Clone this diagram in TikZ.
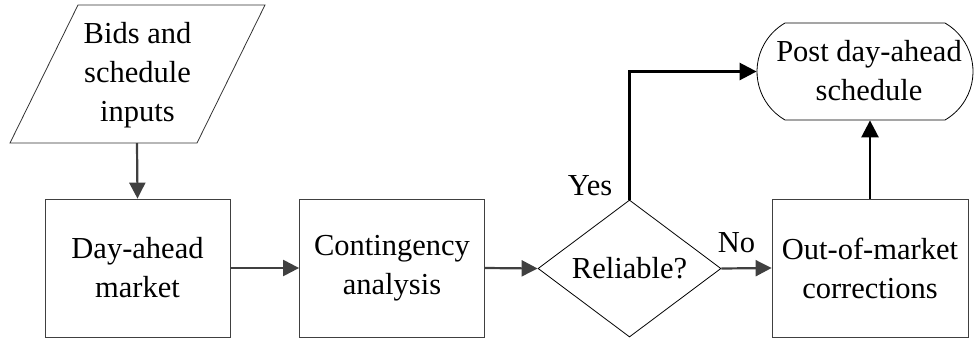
\documentclass[tikz,border=0pt]{standalone}
\usepackage{fontspec}
\setmainfont{Liberation Serif}
\usetikzlibrary{shapes.geometric,shapes.misc,arrows.meta}

\tikzset{
  lbl/.style={font=\fontsize{30.5}{39}\selectfont, align=center, inner sep=0pt},
  procbox/.style={draw=black!75, line width=0.8pt, minimum width=185pt, minimum height=138pt,
                  lbl},
  decision/.style={draw=black, line width=0.8pt, diamond, aspect=1.336,
                   minimum width=183pt, minimum height=137pt, lbl},
  terminal/.style={draw=black, line width=0.8pt, rounded rectangle, rounded rectangle arc length=120,
                   minimum width=216pt, minimum height=97pt, lbl},
  flow/.style={draw=black!75, line width=2.2pt, -{Triangle[length=16pt,width=16pt]}},
  flowk/.style={draw=black, line width=2.6pt, -{Triangle[length=17pt,width=17pt]}},
}

\begin{document}
\begin{tikzpicture}[x=1pt,y=-1pt]
  \useasboundingbox (0,0) rectangle (974,341);

  % input parallelogram
  \draw[black!80, line width=0.8pt] (78,5) -- (265,5) -- (197,143) -- (10,143) -- cycle;
  \node[lbl] (inp) at (137.5,75) {Bids and\\schedule\\inputs};
  \coordinate (inpB) at (137,143);

  % process steps
  \node[procbox] (dam) at (137.5,268) {Day-ahead\\market};
  \node[procbox] (ca)  at (392,268) {Contingency\\analysis};
  \node[decision] (rel) at (629.5,268.5) {Reliable?};
  \node[procbox, minimum width=196pt] (oom) at (870,268) {Out-of-market\\corrections};
  \node[terminal] (post) at (865,71.5) {};
  \node[lbl] (postT) at (869,71) {Post day-ahead\\schedule};

  % connectors
  \draw[flow] (inpB) -- (dam.north);
  \draw[flow] (dam.east) -- (ca.west);
  \draw[flow] (ca.east) -- (rel.west);
  \draw[flow] (rel.east) -- (oom.west) node[lbl, pos=0.3, above=14pt] (no) {No};
  \draw[flowk] (rel.north) |- (post.west);
  \node[lbl] (yes) at (590,186) {Yes};
  \draw[flowk] (oom.north) -- (post.south -| oom.north);
\end{tikzpicture}
\end{document}
